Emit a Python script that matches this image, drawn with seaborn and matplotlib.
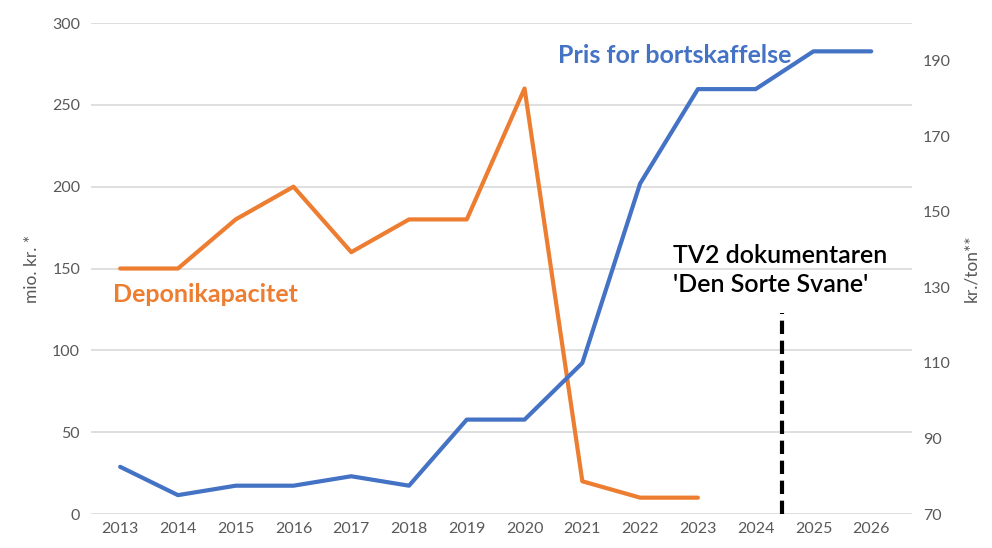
import numpy as np
import pandas as pd
import matplotlib.pyplot as plt
import seaborn as sns

years = list(range(2013, 2027))
deponi_years = list(range(2013, 2024))
deponikapacitet = [150, 150, 180, 200, 160, 180, 180, 260, 20, 10, 10]
pris = [82.5, 75, 77.5, 77.5, 80, 77.5, 95, 95, 110, 157.5, 182.5, 182.5, 192.5, 192.5]
left_ticks = [0, 50, 100, 150, 200, 250, 300]
right_ticks = [70, 90, 110, 130, 150, 170, 190]
event_year = 2024.45

orange = '#ED7D31'
blue = '#4472C4'
grey = '#595959'

sns.set_style('white')
plt.rcParams['font.family'] = ['Lato', 'DejaVu Sans']

df_dep = pd.DataFrame({'year': deponi_years, 'value': deponikapacitet})
df_pris = pd.DataFrame({'year': years, 'value': pris})

fig, ax = plt.subplots(figsize=(9.92, 5.48), dpi=100)
fig.subplots_adjust(left=0.092, right=0.919, bottom=0.062, top=0.958)
ax2 = ax.twinx()

sns.lineplot(data=df_dep, x='year', y='value', ax=ax, color=orange, linewidth=3, zorder=3)
sns.lineplot(data=df_pris, x='year', y='value', ax=ax2, color=blue, linewidth=3, zorder=3)

ax.set_ylim(0, 300)
ax.set_yticks(left_ticks)
ax2.set_ylim(70, 200)
ax2.set_yticks(right_ticks)
ax.set_xlim(2012.5, 2026.7)
ax.set_xticks(years)

ax.grid(axis='y', color='#D9D9D9', linewidth=1.2)
ax.set_axisbelow(True)
for a in (ax, ax2):
    for s in a.spines.values():
        s.set_visible(False)
    a.tick_params(length=0, labelsize=11.5, colors=grey, pad=8)
ax.tick_params(axis='x', pad=6)

ax.set_xlabel('')
ax.set_ylabel('mio. kr. *', fontsize=12.5, color=grey, labelpad=9)
ax2.set_ylabel('kr./ton**', fontsize=12.5, color=grey, labelpad=9)

ax.vlines(event_year, 0, 123, colors='black', linestyles=(0, (3.2, 1.6)), linewidth=3, zorder=4)

ax.text(2012.88, 134, 'Deponikapacitet', color=orange, fontsize=18, fontweight='bold', va='center')
ax2.text(2020.58, 191.5, 'Pris for bortskaffelse', color=blue, fontsize=18, fontweight='bold', va='center')
ax.text(2022.57, 149, "TV2 dokumentaren\n'Den Sorte Svane'", color='black', fontsize=18,
        fontweight='semibold', va='center', linespacing=1.3)

fig.savefig('out.png', dpi=100)
